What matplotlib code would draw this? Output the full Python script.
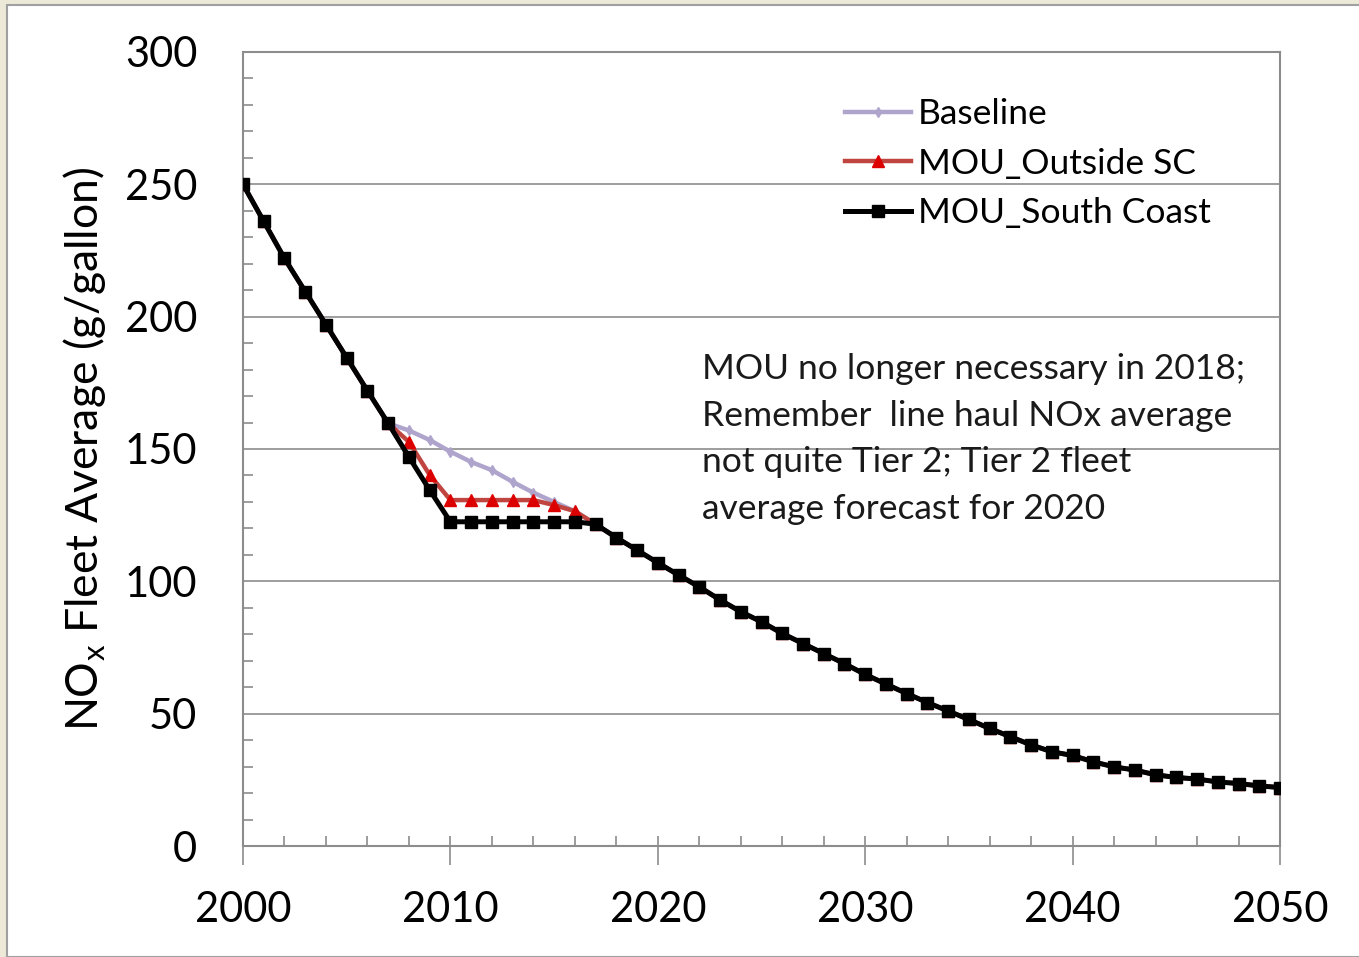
import matplotlib
matplotlib.use("Agg")
import matplotlib.pyplot as plt
from matplotlib.ticker import MultipleLocator
from matplotlib.patches import Rectangle

plt.rcParams['font.family'] = ['Lato', 'DejaVu Sans']

years = list(range(2000, 2051))

baseline = [250, 236, 222, 209.5, 197, 184.5, 172, 159.7, 157, 153.4,
            149, 145.1, 142, 137.6, 133.5, 130, 126.5, 121.6, 116.5, 111.8,
            107, 102.4, 97.9, 93, 88.5, 84.7, 80.3, 76.5, 72.7, 68.9,
            64.8, 61.2, 57.6, 54.2, 51, 47.8, 44.4, 41.3, 38.2, 35.6,
            34.2, 31.8, 29.9, 28.7, 26.9, 25.9, 25.3, 24.2, 23.6, 22.7, 22.1]

mou_outside = [250, 236, 222, 209.5, 197, 184.5, 172, 159.7, 152.7, 140.2,
               130.7, 130.7, 130.7, 130.7, 130.7, 128.8, 126.5, 121.6, 116.5, 111.8,
               107, 102.4, 97.9, 93, 88.5, 84.7, 80.3, 76.5, 72.7, 68.9,
               64.8, 61.2, 57.6, 54.2, 51, 47.8, 44.4, 41.3, 38.2, 35.6,
               34.2, 31.8, 29.9, 28.7, 26.9, 25.9, 25.3, 24.2, 23.6, 22.7, 22.1]

mou_south = [250, 236, 222, 209.5, 197, 184.5, 172, 159.7, 147, 134.5,
             122.5, 122.5, 122.5, 122.5, 122.5, 122.5, 122.5, 121.6, 116.5, 111.8,
             107, 102.4, 97.9, 93, 88.5, 84.7, 80.3, 76.5, 72.7, 68.9,
             64.8, 61.2, 57.6, 54.2, 51, 47.8, 44.4, 41.3, 38.2, 35.6,
             34.2, 31.8, 29.9, 28.7, 26.9, 25.9, 25.3, 24.2, 23.6, 22.7, 22.1]

series_names = ["Baseline", "MOU_Outside SC", "MOU_South Coast"]
note = ("MOU no longer necessary in 2018;\nRemember  line haul NOx average\n"
        "not quite Tier 2; Tier 2 fleet\naverage forecast for 2020")

W, H = 1359, 957
fig = plt.figure(figsize=(W / 100, H / 100), dpi=100, facecolor='#ECE9D8')
bg = Rectangle((7 / W, 0), 1.0, 1 - 5 / H, transform=fig.transFigure,
               facecolor='white', edgecolor='#A0A0A0', linewidth=1.5, zorder=-10)
fig.add_artist(bg)

ax = fig.add_axes([243 / W, 1 - 846 / H, (1280 - 243) / W, (846 - 52) / H])
ax.set_zorder(1)
ax.set_facecolor('white')

ax.plot(years, baseline, color='#AFA5CC', lw=3.2, marker='d', ms=5.5,
        mfc='#AFA5CC', mec='#AFA5CC', label=series_names[0], zorder=3)
ax.plot(years, mou_outside, color='#C0443F', lw=3.2, marker='^', ms=9,
        mfc='#DD0000', mec='#DD0000', label=series_names[1], zorder=4)
ax.plot(years, mou_south, color='black', lw=3.6, marker='s', ms=8.5,
        mfc='black', mec='black', label=series_names[2], zorder=5)

ax.set_xlim(2000, 2050)
ax.set_ylim(0, 300)
ax.xaxis.set_major_locator(MultipleLocator(10))
ax.xaxis.set_minor_locator(MultipleLocator(2))
ax.xaxis.remove_overlapping_locs = False
ax.yaxis.set_major_locator(MultipleLocator(50))
ax.yaxis.set_minor_locator(MultipleLocator(10))

ax.grid(axis='y', which='major', color='#8C8C8C', lw=1.2, zorder=1)
ax.set_axisbelow(True)
for s in ax.spines.values():
    s.set_color('#8C8C8C')
    s.set_linewidth(1.5)

ax.tick_params(axis='x', which='major', direction='out', length=13.5, width=1.2,
               color='#8C8C8C', labelsize=30, pad=19)
ax.tick_params(axis='x', which='minor', direction='in', length=7, width=1.2,
               color='#8C8C8C')
ax.tick_params(axis='y', which='major', direction='in', length=0, labelsize=30, pad=33)
ax.tick_params(axis='y', which='minor', direction='in', length=7.5, width=1.2,
               color='#8C8C8C')

ax.set_ylabel("NO$_\\mathregular{x}$ Fleet Average (g/gallon)", fontsize=32, labelpad=12)

ax.text(0.443, 0.6205, note, transform=ax.transAxes, fontsize=25.5,
        linespacing=1.56, va='top', ha='left', color='#1A1A1A')

leg = ax.legend(loc='upper left', bbox_to_anchor=(0.567, 0.96), frameon=False,
                fontsize=25.5, handlelength=1.85, handletextpad=0.2, labelspacing=0.5,
                borderaxespad=0)

fig.savefig("out.png", dpi=100, facecolor=fig.get_facecolor())
